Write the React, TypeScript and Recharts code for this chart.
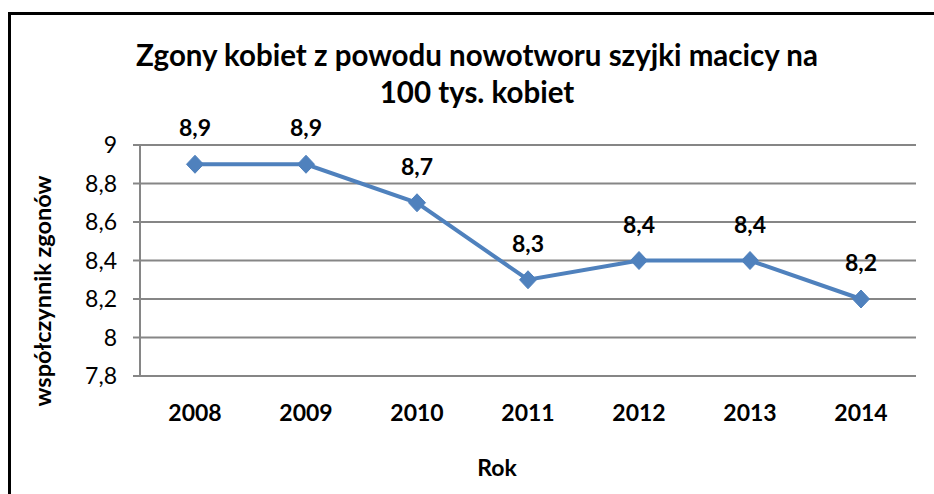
import React from 'react'
import { LineChart, Line, XAxis, YAxis, CartesianGrid, LabelList, Label } from 'recharts'

// Zgony kobiet z powodu nowotworu szyjki macicy (na 100 tys. kobiet)
const years = ['2008', '2009', '2010', '2011', '2012', '2013', '2014']
const rates = [8.9, 8.9, 8.7, 8.3, 8.4, 8.4, 8.2]
const yTicks = [7.8, 8, 8.2, 8.4, 8.6, 8.8, 9]

const data = years.map((year, i) => ({ year, rate: rates[i] }))

const FONT = 'Lato, "Open Sans", sans-serif'
const BLUE = '#4F81BD'
const GRID = '#868686'

const plComma = (v: number | string) => String(v).replace('.', ',')

const Diamond = (props: any) => {
  const { cx, cy } = props
  if (cx == null || cy == null) return null
  return (
    <polygon
      points={`${cx},${cy - 9} ${cx + 8.5},${cy} ${cx},${cy + 9} ${cx - 8.5},${cy}`}
      fill={BLUE}
      stroke={BLUE}
    />
  )
}

const YTitle = () => (
  <text
    x={42}
    y={291}
    transform="rotate(-90, 42, 291)"
    textAnchor="middle"
    dominantBaseline="central"
    fontFamily={FONT}
    fontWeight="bold"
    fontSize={23.5}
    fill="#000"
  >
    współczynnik zgonów
  </text>
)

export default function App() {
  return (
    <div style={{ position: 'fixed', left: 0, top: 0, width: 934, height: 494, overflow: 'hidden', background: '#fff' }}>
      <div
        style={{
          position: 'absolute',
          left: 8,
          top: 12,
          width: 1000,
          height: 600,
          borderLeft: '3px solid #000',
          borderTop: '3px solid #000',
        }}
      />
      <div
        style={{
          position: 'absolute',
          left: 0,
          top: 36,
          width: 954,
          textAlign: 'center',
          fontFamily: FONT,
          fontWeight: 'bold',
          fontSize: 29.5,
          lineHeight: '37px',
          color: '#000',
        }}
      >
        Zgony kobiet z powodu nowotworu szyjki macicy na
        <br />
        100 tys. kobiet
      </div>
      <div style={{ position: 'absolute', left: 0, top: 0 }}>
        <LineChart
          width={934}
          height={494}
          data={data}
          margin={{ top: 145, right: 18, bottom: 0, left: 0 }}
        >
          <CartesianGrid horizontal vertical={false} stroke={GRID} strokeWidth={2} />
          <XAxis
            dataKey="year"
            height={118}
            padding={{ left: 55, right: 55 }}
            tickLine={false}
            tickSize={0}
            tickMargin={29}
            axisLine={{ stroke: GRID, strokeWidth: 2 }}
            tick={{ fill: '#000', fontSize: 23, fontWeight: 'bold', fontFamily: FONT }}
          >
            <Label
              value="Rok"
              position="insideBottom"
              offset={18}
              dx={-31}
              style={{ fill: '#000', fontSize: 23, fontWeight: 'bold', fontFamily: FONT }}
            />
          </XAxis>
          <YAxis
            width={140}
            domain={[7.8, 9]}
            ticks={yTicks}
            interval={0}
            tickSize={7}
            tickMargin={16}
            tickFormatter={plComma}
            axisLine={{ stroke: GRID, strokeWidth: 2 }}
            tickLine={{ stroke: GRID, strokeWidth: 2 }}
            tick={{ fill: '#000', fontSize: 23, fontFamily: FONT }}
          >
            <Label content={<YTitle />} />
          </YAxis>
          <Line
            type="linear"
            dataKey="rate"
            stroke={BLUE}
            strokeWidth={4}
            dot={<Diamond />}
            activeDot={false}
            isAnimationActive={false}
          >
            <LabelList
              dataKey="rate"
              position="top"
              offset={28}
              formatter={plComma}
              style={{ fill: '#000', fontSize: 23, fontWeight: 'bold', fontFamily: FONT }}
            />
          </Line>
        </LineChart>
      </div>
    </div>
  )
}
